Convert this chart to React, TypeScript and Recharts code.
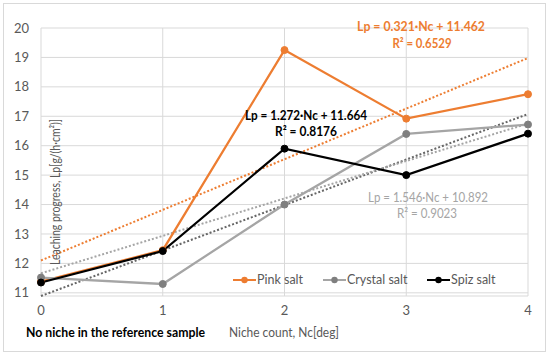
import React from 'react';
import {
  CartesianGrid,
  Legend,
  Line,
  LineChart,
  XAxis,
  YAxis,
} from 'recharts';

const nicheCounts = [0, 1, 2, 3, 4];
const pinkSalt = [11.38, 12.45, 19.25, 16.92, 17.75];
const crystalSalt = [11.52, 11.3, 14.0, 16.4, 16.72];
const spizSalt = [11.35, 12.42, 15.9, 15.0, 16.41];

// trendline ends, at Nc = 0 and Nc = 4
const trendEnds = [0, 4];
const pinkTrend = [12.1, 18.98];
const crystalTrend = [10.892, 17.076];
const spizTrend = [11.664, 16.752];

const yTicks = [11, 12, 13, 14, 15, 16, 17, 18, 19, 20];

const data = nicheCounts.map((nc, i) => {
  const t = trendEnds.indexOf(nc);
  return {
    nc,
    pink: pinkSalt[i],
    crystal: crystalSalt[i],
    spiz: spizSalt[i],
    pinkTrend: t >= 0 ? pinkTrend[t] : null,
    crystalTrend: t >= 0 ? crystalTrend[t] : null,
    spizTrend: t >= 0 ? spizTrend[t] : null,
  };
});

const FONT = 'Lato, "Open Sans", sans-serif';
const ORANGE = '#ED7D31';
const GRAY = '#A5A5A5';
const GRAY_DARK = '#7F7F7F';

const legendItems = [
  { name: 'Pink salt', color: ORANGE, marker: ORANGE, w: 90 },
  { name: 'Crystal salt', color: GRAY, marker: GRAY_DARK, w: 104 },
  { name: 'Spiz salt', color: '#000', marker: '#000', w: 80 },
];

const LegendBox = () => (
  <div style={{ display: 'flex', fontFamily: FONT, fontSize: 12.5, color: '#595959' }}>
    {legendItems.map((it) => (
      <div key={it.name} style={{ display: 'flex', alignItems: 'center', width: it.w }}>
        <svg width={23} height={10}>
          <line x1={0} y1={5} x2={23} y2={5} stroke={it.color} strokeWidth={2} />
          <circle cx={11.5} cy={5} r={3.2} fill={it.marker} />
        </svg>
        <span style={{ marginLeft: 1 }}>{it.name}</span>
      </div>
    ))}
  </div>
);

const App: React.FC = () => {
  return (
    <div style={{ position: 'absolute', left: 0, top: 0, width: 550, height: 356, background: '#fff' }}>
      <div
        style={{
          position: 'absolute',
          left: 3,
          top: 3,
          width: 543,
          height: 349,
          border: '1px solid #D9D9D9',
          boxSizing: 'border-box',
        }}
      />
      <LineChart
        width={550}
        height={356}
        data={data}
        margin={{ top: 13, right: 22, left: 0, bottom: 30 }}
        style={{ position: 'absolute', left: 0, top: 0 }}
      >
        <CartesianGrid stroke='#D9D9D9' strokeWidth={1} />
        <XAxis
          dataKey='nc'
          type='number'
          domain={[0, 4]}
          ticks={nicheCounts}
          axisLine={false}
          tickLine={false}
          tickSize={0}
          tickMargin={10}
          height={30}
          tick={{ fill: '#595959', fontSize: 13, fontFamily: FONT }}
        />
        <YAxis
          type='number'
          domain={[11, 20]}
          ticks={yTicks}
          axisLine={false}
          tickLine={false}
          tickSize={0}
          tickMargin={12}
          width={41}
          tick={{ fill: '#595959', fontSize: 13, fontFamily: FONT }}
        />
        <Legend
          verticalAlign='top'
          content={<LegendBox />}
          wrapperStyle={{ position: 'absolute', left: 233, top: 272, width: 300 }}
        />
        <Line
          dataKey='pinkTrend'
          connectNulls
          stroke={ORANGE}
          strokeWidth={2}
          strokeDasharray='2 2'
          dot={false}
          legendType='none'
          isAnimationActive={false}
        />
        <Line
          dataKey='crystalTrend'
          connectNulls
          stroke='#666666'
          strokeWidth={2}
          strokeDasharray='2 2'
          dot={false}
          legendType='none'
          isAnimationActive={false}
        />
        <Line
          dataKey='spizTrend'
          connectNulls
          stroke={GRAY}
          strokeWidth={2}
          strokeDasharray='2 2'
          dot={false}
          legendType='none'
          isAnimationActive={false}
        />
        <Line
          dataKey='pink'
          name='Pink salt'
          stroke={ORANGE}
          strokeWidth={2.25}
          dot={{ r: 3.5, fill: ORANGE, stroke: ORANGE, strokeWidth: 1 }}
          isAnimationActive={false}
        />
        <Line
          dataKey='crystal'
          name='Crystal salt'
          stroke={GRAY}
          strokeWidth={2.25}
          dot={{ r: 3.5, fill: GRAY_DARK, stroke: GRAY_DARK, strokeWidth: 1 }}
          isAnimationActive={false}
        />
        <Line
          dataKey='spiz'
          name='Spiz salt'
          stroke='#000'
          strokeWidth={2.25}
          dot={{ r: 3.5, fill: '#000', stroke: '#000', strokeWidth: 1 }}
          isAnimationActive={false}
        />
      </LineChart>
      <svg
        width={550}
        height={356}
        style={{ position: 'absolute', left: 0, top: 0, pointerEvents: 'none' }}
        fontFamily={FONT}
      >
        <text
          transform='translate(60,192) rotate(-90)'
          textAnchor='middle'
          fontSize={14}
          fill='#595959'
          textLength={146}
          lengthAdjust='spacingAndGlyphs'
        >
          Leaching progress, Lp[g/(h·cm²)]
        </text>
        <text x={421} y={31} fontSize={14} fontWeight='bold' fill={ORANGE} textAnchor='middle' textLength={128} lengthAdjust='spacingAndGlyphs'>
          Lp = 0.321·Nc  + 11.462
        </text>
        <text x={422} y={48} fontSize={14} fontWeight='bold' fill={ORANGE} textAnchor='middle' textLength={59} lengthAdjust='spacingAndGlyphs'>
          R² = 0.6529
        </text>
        <text x={306} y={120} fontSize={14} fontWeight='bold' fill='#000' textAnchor='middle' textLength={122} lengthAdjust='spacingAndGlyphs'>
          Lp = 1.272·Nc + 11.664
        </text>
        <text x={306} y={136} fontSize={14} fontWeight='bold' fill='#000' textAnchor='middle' textLength={62} lengthAdjust='spacingAndGlyphs'>
          R² = 0.8176
        </text>
        <text x={428} y={202} fontSize={14} fill={GRAY} textAnchor='middle' textLength={120} lengthAdjust='spacingAndGlyphs'>
          Lp = 1.546·Nc + 10.892
        </text>
        <text x={427} y={218} fontSize={14} fill={GRAY} textAnchor='middle' textLength={60} lengthAdjust='spacingAndGlyphs'>
          R² = 0.9023
        </text>
        <text x={26} y={337} fontSize={14} fontWeight='bold' fill='#000' textLength={179} lengthAdjust='spacingAndGlyphs'>
          No niche in the reference sample
        </text>
        <text x={229} y={337} fontSize={13} fill='#595959' textLength={110} lengthAdjust='spacingAndGlyphs'>
          Niche count, Nc[deg]
        </text>
      </svg>
    </div>
  );
};

export default App;
